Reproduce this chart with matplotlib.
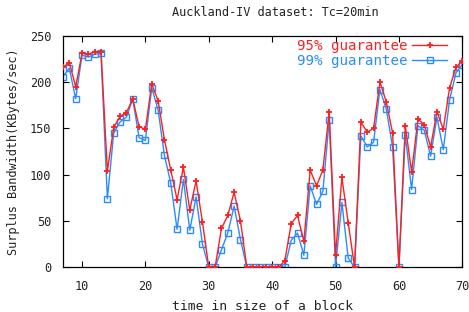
import matplotlib
matplotlib.use("Agg")
import matplotlib.pyplot as plt

t = list(range(7, 71))
g95 = [216, 221, 195, 231, 230, 233, 233, 104, 151, 163, 167, 182, 152, 149,
       198, 180, 138, 105, 73, 108, 62, 93, 49, 0, 0, 42, 56, 81, 50,
       0, 0, 0, 0, 0, 0, 7, 47, 56, 28, 105, 88, 105, 168, 13, 97, 48, 0,
       157, 146, 150, 200, 179, 145, 0, 153, 103, 160, 154, 130, 168, 149,
       194, 216, 223]
g99 = [206, 215, 182, 229, 227, 230, 231, 74, 145, 157, 162, 182, 140, 137,
       194, 170, 121, 91, 41, 95, 40, 76, 25, 0, 0, 19, 37, 66, 30,
       0, 0, 0, 0, 0, 0, 0, 29, 37, 13, 88, 68, 82, 159, 0, 70, 10, 0,
       142, 130, 135, 192, 171, 130, 0, 143, 84, 153, 148, 120, 162, 127,
       181, 210, 219]
labels = ["95% guarantee", "99% guarantee"]
title = "Auckland-IV dataset: Tc=20min"
xlabel = "time in size of a block"
ylabel = "Surplus Bandwidth(KBytes/sec)"
xticks = [10, 20, 30, 40, 50, 60, 70]
yticks = [0, 50, 100, 150, 200, 250]

plt.rcParams['font.family'] = ['DejaVu Sans Mono']
fs = 8.6
tc = '#222222'

fig = plt.figure(figsize=(4.69, 3.12), dpi=100)
ax = fig.add_axes([63/469, 1-267.3/312, (462.3-63)/469, (267.3-35.8)/312])

red = '#ff1f1f'
blue = '#2a8cff'
ax.plot(t, g95, color=red, lw=1.0, marker='+', ms=5, mew=1.3, label=labels[0], zorder=3)
ax.plot(t, g99, color=blue, lw=1.0, marker='s', ms=4, mfc='none', mew=1.0, label=labels[1], zorder=2)

ax.set_xlim(7, 70)
ax.set_ylim(0, 250)
ax.set_xticks(xticks)
ax.set_yticks(yticks)
ax.tick_params(direction='in', length=4, width=0.8, top=True, right=True,
               labelsize=fs, colors='black', labelcolor=tc)
ax.tick_params(axis='x', pad=9)
ax.tick_params(axis='y', pad=8.5)
for s in ax.spines.values():
    s.set_linewidth(0.9)

ax.set_xlabel(xlabel, fontsize=fs + 0.8, labelpad=5, color=tc)
ax.set_ylabel(ylabel, fontsize=fs, labelpad=7, color=tc)
fig.text(275/469, 1 - 12/312, title, ha='center', va='center', fontsize=fs, color=tc)

leg = ax.legend(loc='upper right', bbox_to_anchor=(0.962, 0.988), frameon=False,
                markerfirst=False, labelcolor='linecolor', fontsize=10.2,
                handlelength=2.45, handletextpad=0.35, borderpad=0, borderaxespad=0,
                labelspacing=0.12)

fig.savefig("out.png", dpi=100)
